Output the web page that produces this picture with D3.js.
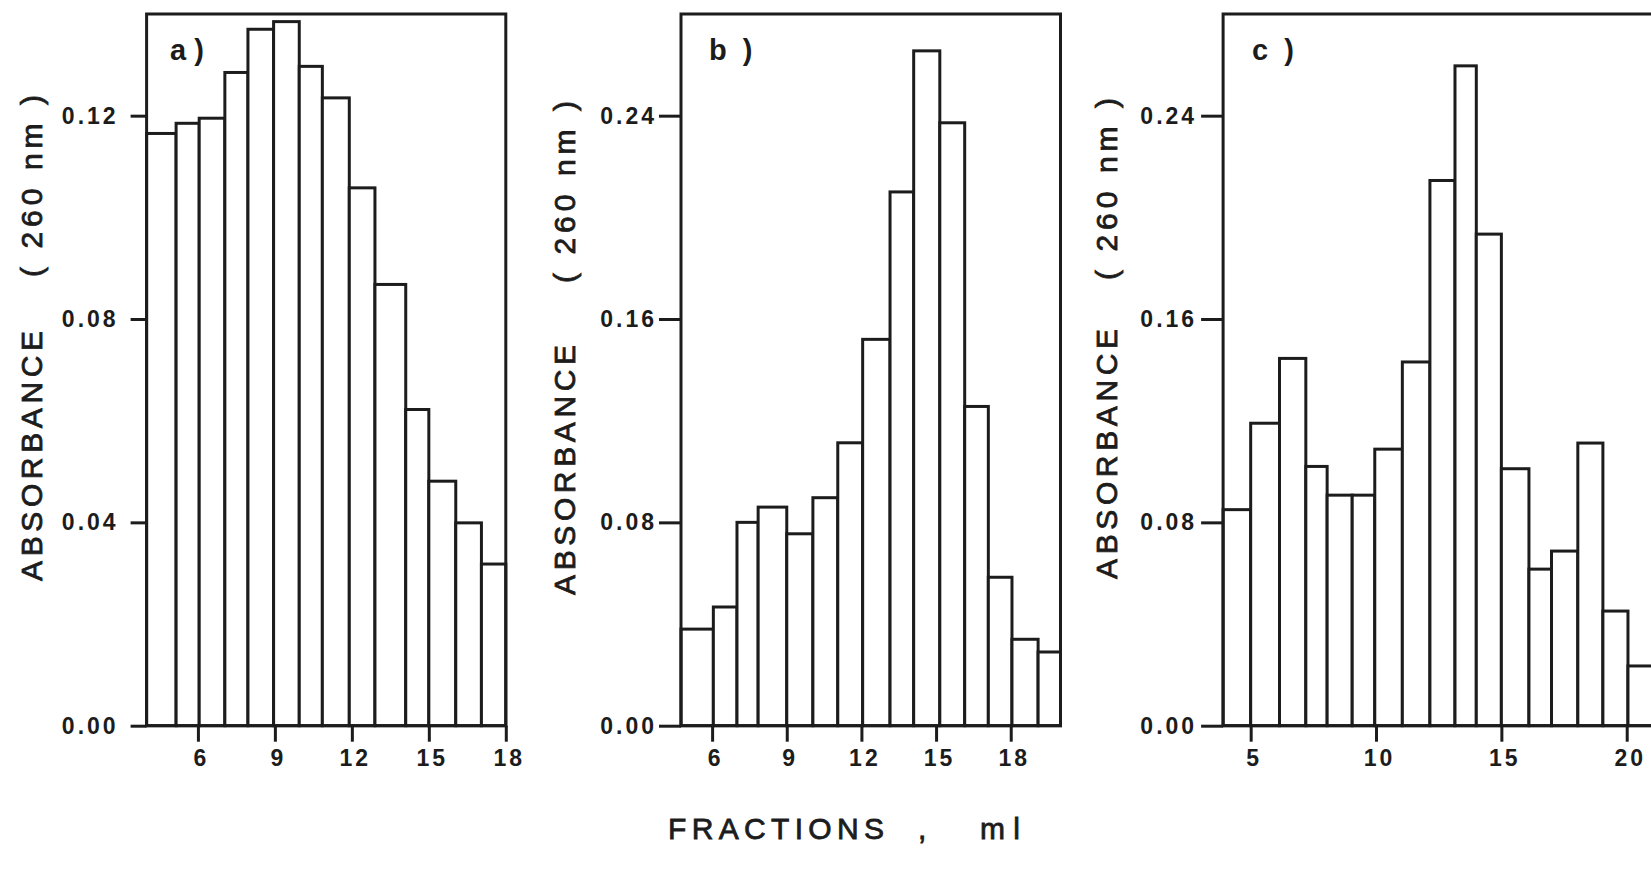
<!DOCTYPE html>
<html>
<head>
<meta charset="utf-8">
<script src="https://cdn.jsdelivr.net/npm/d3@7"></script>
<style>
  html, body { margin: 0; padding: 0; background: #fff; }
  svg { display: block; }
</style>
</head>
<body>
<svg id="chart" width="1651" height="874"></svg>
<script>
// ---------------- DATA ----------------
// Panel a) : fraction boundaries (ml) and absorbance at 260 nm
const aEdges  = [4, 5.15, 6.05, 7.05, 7.95, 8.95, 9.95, 10.85, 11.9, 12.9, 14.1, 15, 16.05, 17.05, 18];
const aValues = [0.1165, 0.1185, 0.1195, 0.1285, 0.137, 0.1385, 0.1297, 0.1235, 0.1058, 0.0868, 0.0622, 0.0481, 0.0399, 0.0318];
const aXTicks = [6, 9, 12, 15, 18];
const aYTicks = [0, 0.04, 0.08, 0.12];

// Panel b)
const bEdges  = [4.75, 6.05, 7, 7.85, 9, 10.05, 11.05, 12.05, 13.15, 14.1, 15.15, 16.15, 17.1, 18.05, 19.1, 20];
const bValues = [0.038, 0.0467, 0.080, 0.086, 0.0755, 0.0897, 0.1113, 0.152, 0.210, 0.2655, 0.2372, 0.1256, 0.0584, 0.034, 0.029];
const bXTicks = [6, 9, 12, 15, 18];
const bYTicks = [0, 0.08, 0.16, 0.24];

// Panel c)
const cEdges  = [3.9, 5, 6.15, 7.2, 8.05, 9.05, 9.95, 11.05, 12.15, 13.15, 14, 15, 16.1, 17, 18.05, 19.05, 20.05, 21.4];
const cValues = [0.085, 0.119, 0.1445, 0.102, 0.0907, 0.0907, 0.1088, 0.1431, 0.2145, 0.2596, 0.1934, 0.1011, 0.0616, 0.0687, 0.1112, 0.0451, 0.0235];
const cXTicks = [5, 10, 15, 20];
const cYTicks = [0, 0.08, 0.16, 0.24];

const panelLetters = ["a)", "b )", "c )"];
const yTitleMain = "ABSORBANCE";
const yTitleUnit = "( 260 nm )";
const xTitle = ["FRACTIONS", ",", "ml"];

// ---------------- LAYOUT ----------------
const INK = "#1c1c1c";
const FONT = "'Liberation Sans', Arial, Helvetica, sans-serif";
const baseY = 725.7, topY = 14;

const panels = [
  { edges: aEdges, values: aValues, xTicks: aXTicks, yTicks: aYTicks, yMax: 0.14,
    xDomain: [4, 18], left: 146.6, right: 505.8, yTick: 16, yPad: 12,
    titleX: 41.5, mainMid: 456, unitMid: 186, letter: panelLetters[0], letterX: 170, letterLS: 8 },
  { edges: bEdges, values: bValues, xTicks: bXTicks, yTicks: bYTicks, yMax: 0.28,
    xDomain: [4.75, 20], left: 681, right: 1060.5, yTick: 22, yPad: 2,
    titleX: 575, mainMid: 470, unitMid: 192, letter: panelLetters[1], letterX: 709, letterLS: 4 },
  { edges: cEdges, values: cValues, xTicks: cXTicks, yTicks: cYTicks, yMax: 0.28,
    xDomain: [3.9, 21.2], left: 1223.1, right: 1656.8, yTick: 22, yPad: 4,
    titleX: 1116.5, mainMid: 454, unitMid: 189, letter: panelLetters[2], letterX: 1252, letterLS: 4 }
];

const svg = d3.select("#chart");
svg.append("rect").attr("width", 1651).attr("height", 874).attr("fill", "#fff");

const fmt = d3.format(".2f");

panels.forEach(p => {
  const x = d3.scaleLinear().domain(p.xDomain).range([p.left, p.right]);
  const y = d3.scaleLinear().domain([0, p.yMax]).range([baseY, topY]);
  const g = svg.append("g");

  // bars
  const bars = p.values.map((v, i) => ({ x0: p.edges[i], x1: p.edges[i + 1], v }));
  g.selectAll("rect.bar").data(bars).join("rect")
    .attr("class", "bar")
    .attr("x", d => x(d.x0))
    .attr("width", d => x(d.x1) - x(d.x0))
    .attr("y", d => y(d.v))
    .attr("height", d => y(0) - y(d.v))
    .attr("fill", "#fff")
    .attr("stroke", INK)
    .attr("stroke-width", 3);

  // frame
  g.append("rect")
    .attr("x", x(p.xDomain[0])).attr("y", y(p.yMax))
    .attr("width", x(p.xDomain[1]) - x(p.xDomain[0]))
    .attr("height", y(0) - y(p.yMax))
    .attr("fill", "none").attr("stroke", INK).attr("stroke-width", 3);

  // y axis
  const ya = g.append("g").attr("transform", `translate(${p.left},0)`)
    .call(d3.axisLeft(y).tickValues(p.yTicks).tickSize(p.yTick).tickPadding(p.yPad).tickFormat(fmt));
  ya.select(".domain").remove();
  ya.selectAll("line").attr("stroke", INK).attr("stroke-width", 3);
  ya.selectAll("text").attr("fill", INK).style("font-family", FONT)
    .style("font-size", "23px").style("font-weight", "bold").style("letter-spacing", "3px");

  // x axis
  const xa = g.append("g").attr("transform", `translate(0,${baseY})`)
    .call(d3.axisBottom(x).tickValues(p.xTicks).tickSize(16).tickPadding(8).tickFormat(d3.format("d")));
  xa.select(".domain").remove();
  xa.selectAll("line").attr("stroke", INK).attr("stroke-width", 3);
  xa.selectAll("text").attr("fill", INK).attr("dx", "3")
    .style("font-family", FONT).style("font-size", "23px").style("font-weight", "bold")
    .style("letter-spacing", "3px");

  // y title (rotated)
  g.append("text")
    .attr("transform", `translate(${p.titleX},${p.mainMid}) rotate(-90)`)
    .attr("text-anchor", "middle").attr("fill", INK)
    .attr("stroke", INK).attr("stroke-width", 0.8)
    .style("font-family", FONT).style("font-size", "30px")
    .attr("textLength", 250).attr("lengthAdjust", "spacing")
    .text(yTitleMain);
  g.append("text")
    .attr("transform", `translate(${p.titleX},${p.unitMid}) rotate(-90)`)
    .attr("text-anchor", "middle").attr("fill", INK)
    .attr("stroke", INK).attr("stroke-width", 0.8)
    .style("font-family", FONT).style("font-size", "30px")
    .attr("textLength", 182).attr("lengthAdjust", "spacing")
    .text(yTitleUnit);

  // panel letter
  g.append("text")
    .attr("x", p.letterX).attr("y", 60)
    .attr("fill", INK)
    .style("font-family", FONT).style("font-size", "29px").style("font-weight", "bold")
    .style("letter-spacing", p.letterLS + "px")
    .text(p.letter);
});

// x title
const xt = svg.append("text").attr("y", 839).attr("fill", INK)
  .attr("stroke", INK).attr("stroke-width", 0.8)
  .style("font-family", FONT).style("font-size", "30px");
xt.append("tspan").attr("x", 668).attr("textLength", 216).attr("lengthAdjust", "spacing").text(xTitle[0]);
xt.append("tspan").attr("x", 918).text(xTitle[1]);
xt.append("tspan").attr("x", 980).attr("textLength", 40).attr("lengthAdjust", "spacing").text(xTitle[2]);
</script>
</body>
</html>
